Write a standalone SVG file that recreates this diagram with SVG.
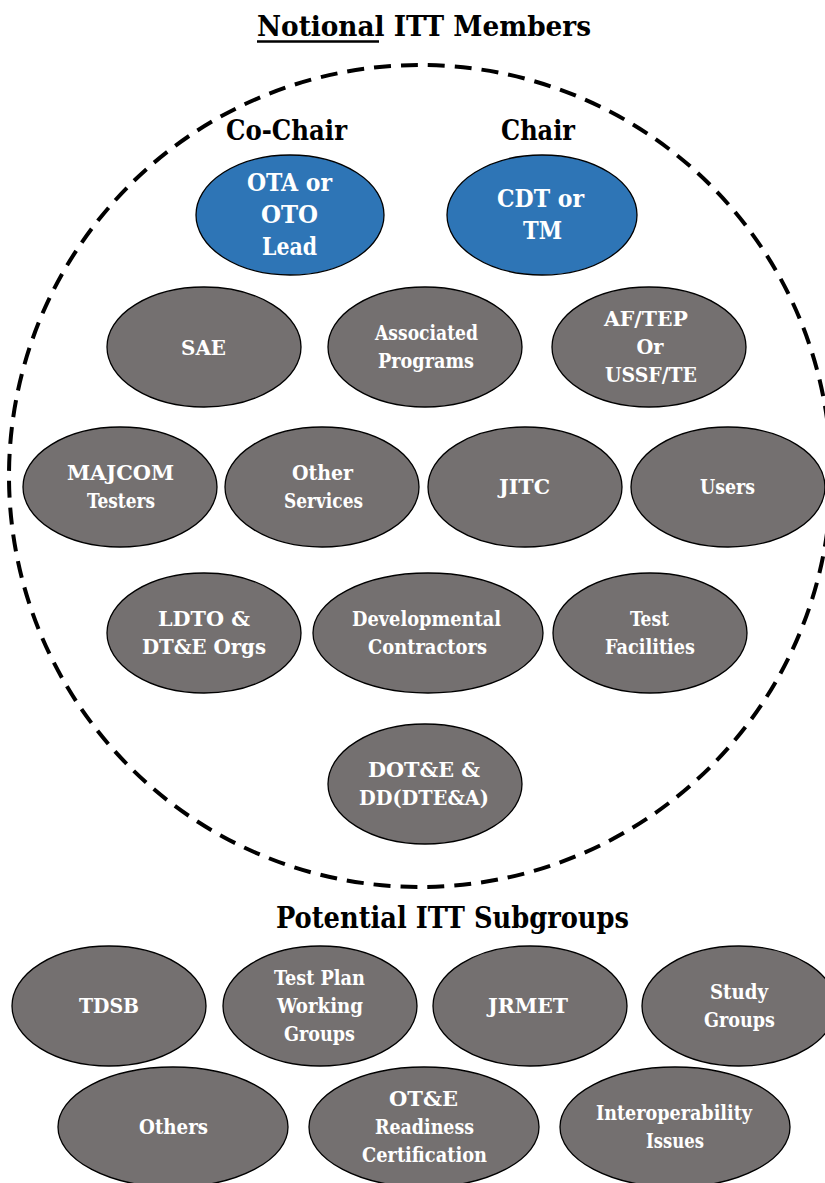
<svg xmlns="http://www.w3.org/2000/svg" width="825" height="1183" viewBox="0 0 825 1183">
<style>
text{font-family:'DejaVu Serif Condensed','DejaVu Serif',serif;font-stretch:condensed;font-weight:bold;text-anchor:middle}
.h{font-size:27.5px;fill:#000}
.h2{font-size:29.5px;fill:#000}
.lab{font-size:27px;fill:#000}
.bl{fill:#2E75B6;stroke:#000;stroke-width:1.3}
.gr{fill:#747070;stroke:#000;stroke-width:1.3}
.wb{font-size:23.5px;fill:#fff}
.wg{font-size:20.5px;fill:#fff}
</style>
<rect width="825" height="1183" fill="#fff"/>
<g id="title">
<text class="h" x="424" y="36" textLength="334" lengthAdjust="spacingAndGlyphs">Notional ITT Members</text>
<line x1="257" y1="41.5" x2="379" y2="41.5" stroke="#000" stroke-width="2.5"/>
</g>
<g id="boundary">
<ellipse cx="420" cy="476" rx="411" ry="411" fill="none" stroke="#000" stroke-width="4" stroke-dasharray="17,10"/>
</g>
<g id="labels">
<text class="lab" x="286.5" y="140" textLength="121" lengthAdjust="spacingAndGlyphs">Co-Chair</text>
<text class="lab" x="538" y="140" textLength="74" lengthAdjust="spacingAndGlyphs">Chair</text>
</g>
<g id="n-ota"><ellipse class="bl" cx="290" cy="215" rx="94" ry="60"/>
<text class="wb" x="289.5" y="191" textLength="85" lengthAdjust="spacingAndGlyphs">OTA or</text>
<text class="wb" x="289.5" y="223" textLength="57" lengthAdjust="spacingAndGlyphs">OTO</text>
<text class="wb" x="289.5" y="255" textLength="55" lengthAdjust="spacingAndGlyphs">Lead</text></g>
<g id="n-cdt"><ellipse class="bl" cx="542" cy="215" rx="95" ry="60"/>
<text class="wb" x="540.5" y="207" textLength="87" lengthAdjust="spacingAndGlyphs">CDT or</text>
<text class="wb" x="542.5" y="239" textLength="39" lengthAdjust="spacingAndGlyphs">TM</text></g>
<g id="n-sae"><ellipse class="gr" cx="204" cy="347" rx="97" ry="60"/>
<text class="wg" x="203.5" y="355" textLength="45" lengthAdjust="spacingAndGlyphs">SAE</text></g>
<g id="n-assoc"><ellipse class="gr" cx="425" cy="347" rx="97" ry="60"/>
<text class="wg" x="426.5" y="340" textLength="103" lengthAdjust="spacingAndGlyphs">Associated</text>
<text class="wg" x="426" y="368" textLength="96" lengthAdjust="spacingAndGlyphs">Programs</text></g>
<g id="n-aftep"><ellipse class="gr" cx="649" cy="347" rx="97" ry="60"/>
<text class="wg" x="646" y="326" textLength="84" lengthAdjust="spacingAndGlyphs">AF/TEP</text>
<text class="wg" x="650" y="354" textLength="27" lengthAdjust="spacingAndGlyphs">Or</text>
<text class="wg" x="651" y="382" textLength="92" lengthAdjust="spacingAndGlyphs">USSF/TE</text></g>
<g id="n-majcom"><ellipse class="gr" cx="120" cy="487" rx="97" ry="60"/>
<text class="wg" x="120.5" y="480" textLength="107" lengthAdjust="spacingAndGlyphs">MAJCOM</text>
<text class="wg" x="121" y="508" textLength="68" lengthAdjust="spacingAndGlyphs">Testers</text></g>
<g id="n-other"><ellipse class="gr" cx="322" cy="487" rx="97" ry="60"/>
<text class="wg" x="322.5" y="480" textLength="61" lengthAdjust="spacingAndGlyphs">Other</text>
<text class="wg" x="323.5" y="508" textLength="79" lengthAdjust="spacingAndGlyphs">Services</text></g>
<g id="n-jitc"><ellipse class="gr" cx="525" cy="487" rx="97" ry="60"/>
<text class="wg" x="524.5" y="494" textLength="51" lengthAdjust="spacingAndGlyphs">JITC</text></g>
<g id="n-users"><ellipse class="gr" cx="728" cy="487" rx="97" ry="60"/>
<text class="wg" x="727.5" y="494" textLength="55" lengthAdjust="spacingAndGlyphs">Users</text></g>
<g id="n-ldto"><ellipse class="gr" cx="204" cy="633" rx="97" ry="60"/>
<text class="wg" x="204" y="626" textLength="92" lengthAdjust="spacingAndGlyphs">LDTO &amp;</text>
<text class="wg" x="204" y="654" textLength="124" lengthAdjust="spacingAndGlyphs">DT&amp;E Orgs</text></g>
<g id="n-dev"><ellipse class="gr" cx="428" cy="633" rx="115" ry="60"/>
<text class="wg" x="426.5" y="626" textLength="149" lengthAdjust="spacingAndGlyphs">Developmental</text>
<text class="wg" x="427.5" y="654" textLength="119" lengthAdjust="spacingAndGlyphs">Contractors</text></g>
<g id="n-testfac"><ellipse class="gr" cx="650" cy="633" rx="97" ry="60"/>
<text class="wg" x="649.5" y="626" textLength="39" lengthAdjust="spacingAndGlyphs">Test</text>
<text class="wg" x="650" y="654" textLength="90" lengthAdjust="spacingAndGlyphs">Facilities</text></g>
<g id="n-dote"><ellipse class="gr" cx="425" cy="784" rx="97" ry="60"/>
<text class="wg" x="424" y="777" textLength="112" lengthAdjust="spacingAndGlyphs">DOT&amp;E &amp;</text>
<text class="wg" x="424" y="805" textLength="130" lengthAdjust="spacingAndGlyphs">DD(DTE&amp;A)</text></g>
<g id="title2"><text class="h2" x="452.5" y="928" textLength="353" lengthAdjust="spacingAndGlyphs">Potential ITT Subgroups</text></g>
<g id="n-tdsb"><ellipse class="gr" cx="109" cy="1006" rx="97" ry="60"/>
<text class="wg" x="109" y="1013" textLength="60" lengthAdjust="spacingAndGlyphs">TDSB</text></g>
<g id="n-tpwg"><ellipse class="gr" cx="320" cy="1006" rx="97" ry="60"/>
<text class="wg" x="319.5" y="985" textLength="91" lengthAdjust="spacingAndGlyphs">Test Plan</text>
<text class="wg" x="320" y="1013" textLength="86" lengthAdjust="spacingAndGlyphs">Working</text>
<text class="wg" x="319.5" y="1041" textLength="71" lengthAdjust="spacingAndGlyphs">Groups</text></g>
<g id="n-jrmet"><ellipse class="gr" cx="530" cy="1006" rx="97" ry="60"/>
<text class="wg" x="528" y="1013" textLength="80" lengthAdjust="spacingAndGlyphs">JRMET</text></g>
<g id="n-study"><ellipse class="gr" cx="739" cy="1006" rx="97" ry="60"/>
<text class="wg" x="739" y="999" textLength="58" lengthAdjust="spacingAndGlyphs">Study</text>
<text class="wg" x="739.5" y="1027" textLength="71" lengthAdjust="spacingAndGlyphs">Groups</text></g>
<g id="n-others"><ellipse class="gr" cx="173" cy="1127" rx="115" ry="60"/>
<text class="wg" x="173.5" y="1134" textLength="69" lengthAdjust="spacingAndGlyphs">Others</text></g>
<g id="n-ote"><ellipse class="gr" cx="424" cy="1127" rx="115" ry="60"/>
<text class="wg" x="423.5" y="1106" textLength="69" lengthAdjust="spacingAndGlyphs">OT&amp;E</text>
<text class="wg" x="424.5" y="1134" textLength="99" lengthAdjust="spacingAndGlyphs">Readiness</text>
<text class="wg" x="424.5" y="1162" textLength="125" lengthAdjust="spacingAndGlyphs">Certification</text></g>
<g id="n-interop"><ellipse class="gr" cx="675" cy="1127" rx="115" ry="60"/>
<text class="wg" x="674" y="1120" textLength="156" lengthAdjust="spacingAndGlyphs">Interoperability</text>
<text class="wg" x="675" y="1148" textLength="58" lengthAdjust="spacingAndGlyphs">Issues</text></g>
<g id="connectors"></g>
</svg>
